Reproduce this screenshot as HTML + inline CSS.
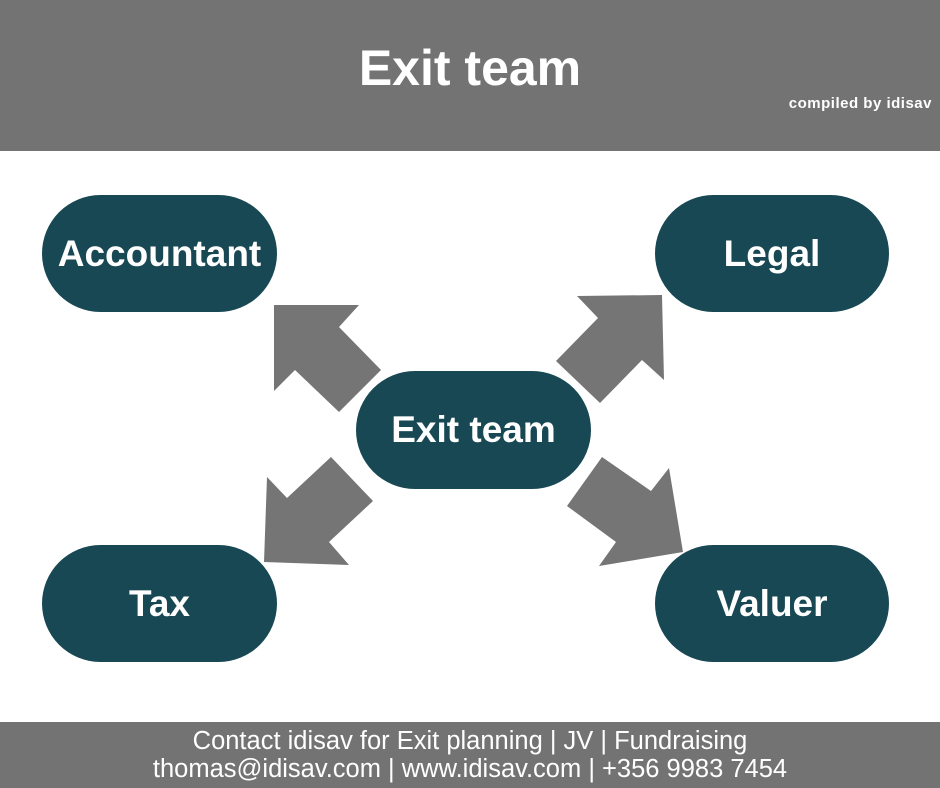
<!DOCTYPE html>
<html><head><meta charset="utf-8"><style>
body{margin:0;width:940px;height:788px;position:relative;background:#fff;font-family:"Liberation Sans",sans-serif;overflow:hidden}
.hdr{position:absolute;left:0;top:0;width:940px;height:151px;background:#737373}
.t{position:absolute;left:0;width:940px;text-align:center;top:39px;color:#fff;font-weight:bold;font-size:50px;padding-left:-4px}
.c{position:absolute;right:8px;top:95px;color:#fff;font-weight:bold;font-size:15px;letter-spacing:0.5px}
.p{position:absolute;background:#174854;border-radius:59px;color:#fff;font-weight:bold;font-size:37px;display:flex;align-items:center;justify-content:center}
.ftr{position:absolute;left:0;top:722px;width:940px;height:66px;background:#737373;color:#fff;text-align:center;font-size:25.5px;line-height:28px;padding-top:5px;box-sizing:border-box}
</style></head><body>
<div class="hdr"><div class="t">Exit team</div><div class="c">compiled by idisav</div></div>
<svg width="940" height="788" style="position:absolute;left:0;top:0">
<g fill="#757575">
<polygon points="274,305 359,305 339,327 381,370 339,412 295,370 274,391"/>
<polygon points="577,296 662,295 664,380 642,360 600,403 556,361 598,318"/>
<polygon points="267,477 287,498 331,457 373,501 329,542 349,565 264,562"/>
<polygon points="602,457 651,491 669,468 683,552 599,566 616,542 567,506"/>
</g></svg>
<div class="p" style="left:42px;top:195px;width:235px;height:117px">Accountant</div>
<div class="p" style="left:655px;top:195px;width:234px;height:117px">Legal</div>
<div class="p" style="left:42px;top:545px;width:235px;height:117px">Tax</div>
<div class="p" style="left:655px;top:545px;width:234px;height:117px">Valuer</div>
<div class="p" style="left:356px;top:371px;width:235px;height:118px">Exit team</div>
<div class="ftr">Contact idisav for Exit planning | JV | Fundraising<br>thomas@idisav.com | www.idisav.com | +356 9983 7454</div>
</body></html>
